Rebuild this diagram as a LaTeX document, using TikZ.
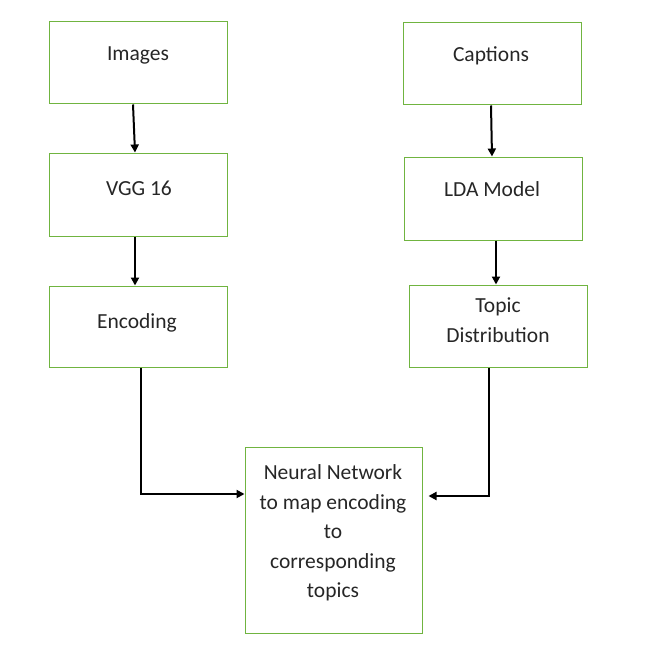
\documentclass[tikz,border=0pt]{standalone}
\usepackage{fontspec}
\setmainfont{Carlito}
\usetikzlibrary{arrows.meta}
\definecolor{boxgreen}{RGB}{112,180,64}
\tikzset{
  box/.style={draw=boxgreen, line width=1pt, rectangle, inner sep=0pt},
  lbl/.style={inner sep=0pt, font=\fontsize{21.5}{29.5}\selectfont, text=black!85},
  arr/.style={draw=black, line width=2pt, -{Triangle[length=8pt,width=8pt]}},
}
\begin{document}
\begin{tikzpicture}[x=1pt,y=-1pt]
\useasboundingbox (0,0) rectangle (651,658);
% boxes
\node[box, minimum width=178pt, minimum height=82pt] (img) at (138,63) {};
\node[box, minimum width=178pt, minimum height=83pt] (vgg) at (138,194.5) {};
\node[box, minimum width=178pt, minimum height=81pt] (enc) at (138,326.5) {};
\node[box, minimum width=178pt, minimum height=82pt] (cap) at (492,64) {};
\node[box, minimum width=178pt, minimum height=83pt] (lda) at (493,198.5) {};
\node[box, minimum width=178pt, minimum height=82pt] (top) at (498,326) {};
\node[box, minimum width=177pt, minimum height=186pt] (nn) at (333.5,540) {};
% labels
\node[lbl, anchor=base] (timg) at (138,61) {Images};
\node[lbl, anchor=base] (tvgg) at (139,195) {VGG 16};
\node[lbl, anchor=base] (tenc) at (137,328) {Encoding};
\node[lbl, anchor=base] (tcap) at (491,62) {Captions};
\node[lbl, anchor=base] (tlda) at (492,196.5) {LDA Model};
\node[lbl, align=center] (ttop) at (498,320) {Topic\\Distribution};
\node[lbl, align=center] (tnn) at (333,533) {Neural Network\\to map encoding\\to\\corresponding\\topics};
% arrows
\draw[arr] ([xshift=-5pt]img.south) -- ([xshift=-3pt]vgg.north);
\draw[arr] ([xshift=-3pt]vgg.south) -- ([xshift=-3pt]enc.north);
\draw[arr] ([xshift=-1pt]cap.south) -- ([xshift=0pt]cap.south |- lda.north);
\draw[arr, line width=2.6pt] ([xshift=3pt]lda.south) -- ([xshift=3pt]lda.south |- top.north);
\draw[arr] ([xshift=3pt]enc.south) |- ([yshift=46pt]nn.west);
\draw[arr] ([xshift=-9pt]top.south) |- ([xshift=6pt,yshift=44pt]nn.east);
\end{tikzpicture}
\end{document}
